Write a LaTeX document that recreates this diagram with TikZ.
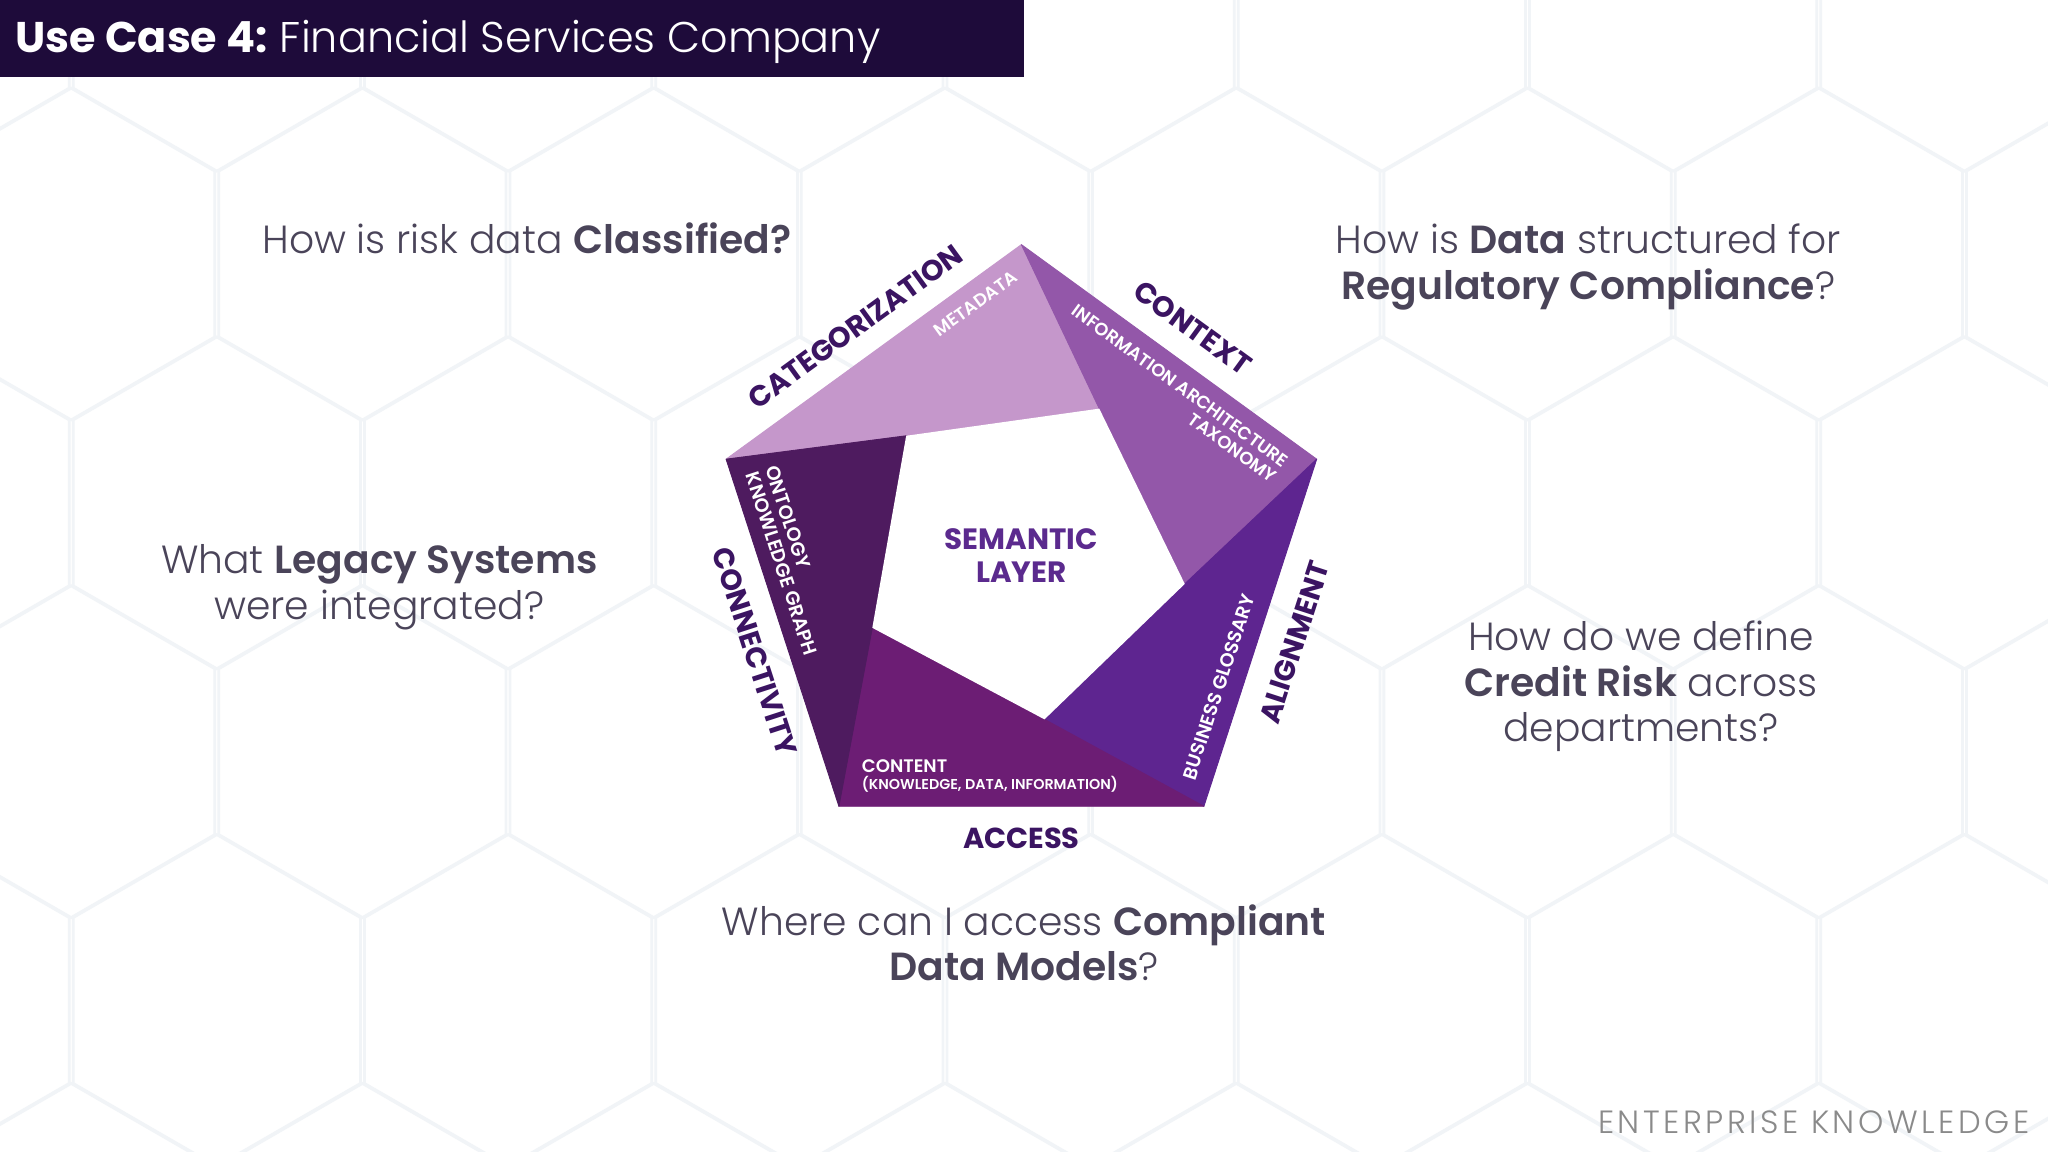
\documentclass[tikz,border=0pt]{standalone}
\usepackage{fontspec}
\setmainfont{Poppins}
\newfontfamily\lightfont{Poppins Light}
\newfontfamily\semifont{Poppins SemiBold}
\newfontfamily\heavyfont{Poppins Bold}
\newfontfamily\brandfont{Poppins Light}[LetterSpace=11]
\usetikzlibrary{calc}
\definecolor{titlebar}{HTML}{1E0B3A}
\definecolor{qtext}{HTML}{4A4459}
\definecolor{rimtext}{HTML}{3B1462}
\definecolor{semtext}{HTML}{5B2A8E}
\definecolor{brand}{HTML}{8A8A8A}
\definecolor{hexgray}{HTML}{F1F4F7}
\definecolor{facetA}{HTML}{C597CB}
\definecolor{facetB}{HTML}{9357A9}
\definecolor{facetC}{HTML}{5E2590}
\definecolor{facetD}{HTML}{6C1D74}
\definecolor{facetE}{HTML}{4E1B5F}
\newcommand{\qbold}[1]{{\semifont #1}}

\begin{document}
\begin{tikzpicture}[x=0.02cm,y=0.02cm,
	question/.style={font=\lightfont\fontsize{17.1}{19.9}\selectfont,text=qtext,align=center,inner sep=0pt},
	rim/.style={font=\heavyfont\fontsize{12.6}{14}\selectfont,text=rimtext,inner sep=0pt},
	facet/.style={font=\semifont\fontsize{7.8}{8.4}\selectfont,text=white,inner sep=0pt},
	hexline/.style={draw=hexgray,line width=1.2pt}]
	\fill[white] (0,0) rectangle (1568,-882);
	\useasboundingbox (0,0) rectangle (1568,-882);
	\begin{scope}
		\clip (0,0) rectangle (1568,-882);
		\foreach \j in {-4,...,2} \foreach \i in {-2,...,6} {
			\pgfmathsetmacro\hx{277.5+223*\i+111.5*mod(\j,2)}
			\pgfmathsetmacro\hy{-575.5-190.5*\j}
			\draw[hexline] (\hx,\hy) +(30:127) -- +(90:127) -- +(150:127) -- +(210:127) -- +(270:127) -- +(330:127) -- cycle;
		}
	\end{scope}

	\fill[titlebar] (0,0) rectangle (784,-59);
	\node[anchor=base west,text=white,inner sep=0pt,font=\fontsize{18.7}{21}\selectfont] (title) at (11.5,-40) {\heavyfont Use Case 4: \lightfont Financial Services Company};

	\coordinate (O) at (782,-425);
	\foreach \k in {0,...,4} {
		\coordinate (o_\k) at ($(O)+({90-72*\k}:237.7)$);
		\coordinate (i_\k) at ($(O)+({62-72*\k}:127)$);
	}
	\foreach \k/\j/\c in {0/4/facetA,1/0/facetB,2/1/facetC,3/2/facetD,4/3/facetE}
		\path[fill=\c,draw=\c,line width=0.4pt,line join=round] (o_\j) -- (o_\k) -- (i_\k) -- (i_\j) -- cycle;
	\fill[white] (i_0) -- (i_1) -- (i_2) -- (i_3) -- (i_4) -- cycle;

	\node[rim,rotate=36] (categorization) at (655,-250) {CATEGORIZATION};
	\node[rim,rotate=-36] (context) at (913,-251) {CONTEXT};
	\node[rim,rotate=72] (alignment) at (991,-492) {ALIGNMENT};
	\node[rim] (access) at (782,-641.5) {ACCESS};
	\node[rim,rotate=-72] (connectivity) at (578,-499) {CONNECTIVITY};

	\node[facet,rotate=36] (metadata) at (747,-232.5) {METADATA};
	\node[facet,rotate=-36,align=right] (infoarch) at (899.2,-301.3) {INFORMATION ARCHITECTURE\\TAXONOMY};
	\node[facet,rotate=-72,align=left,font=\semifont\fontsize{8.4}{9}\selectfont] (ontology) at (605.9,-429.1) {ONTOLOGY\\KNOWLEDGE GRAPH};
	\node[facet,rotate=72,font=\semifont\fontsize{8.3}{9}\selectfont] (glossary) at (933,-526) {BUSINESS GLOSSARY};
	\node[facet,anchor=north west,align=left,font=\semifont\fontsize{7.9}{7.2}\selectfont] (content) at (659.5,-581.5) {CONTENT\\{\fontsize{6.25}{7.2}\selectfont(KNOWLEDGE, DATA, INFORMATION)}};
	\node[font=\heavyfont\fontsize{12.8}{14.1}\selectfont,text=semtext,align=center,inner sep=0pt] (semantic) at (782,-425.4) {SEMANTIC\\LAYER};

	\node[question,anchor=base] (q_class) at (403.4,-194.2) {How is risk data \qbold{Classified?}};
	\node[question,anchor=base] (q_reg) at (1216,-229) {How is \qbold{Data} structured for\\\qbold{Regulatory Compliance}?};
	\node[question,anchor=base] (q_legacy) at (290.5,-474) {What \qbold{Legacy Systems}\\were integrated?};
	\node[question,anchor=base] (q_credit) at (1256.5,-568) {How do we define\\\qbold{Credit Risk} across\\departments?};
	\node[question,anchor=base] (q_models) at (784,-751) {Where can I access \qbold{Compliant}\\\qbold{Data Models}?};
	\node[anchor=base east,text=brand,inner sep=0pt,font=\brandfont\fontsize{14}{16}\selectfont] (brand) at (1554,-867.8) {ENTERPRISE KNOWLEDGE};
\end{tikzpicture}
\end{document}
